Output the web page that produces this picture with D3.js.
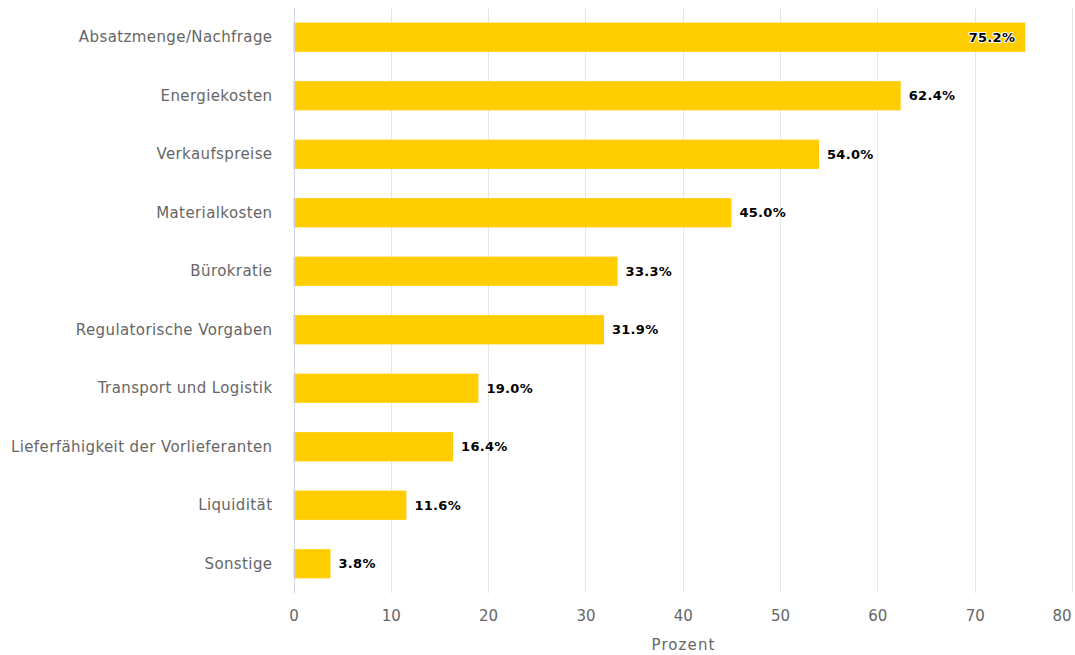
<!DOCTYPE html>
<html>
<head>
<meta charset="utf-8">
<script src="https://cdn.jsdelivr.net/npm/d3@7"></script>
<style>
  body { margin: 0; background: #fff; }
  svg { font-family: "DejaVu Sans", sans-serif; }
</style>
</head>
<body>
<div id="chart-area"></div>
<script>
// Daten
const kategorien = ["Absatzmenge/Nachfrage", "Energiekosten", "Verkaufspreise", "Materialkosten",
  "Bürokratie", "Regulatorische Vorgaben", "Transport und Logistik",
  "Lieferfähigkeit der Vorlieferanten", "Liquidität", "Sonstige"];
const werte = [75.2, 62.4, 54.0, 45.0, 33.3, 31.9, 19.0, 16.4, 11.6, 3.8];
const xTicks = [0, 10, 20, 30, 40, 50, 60, 70, 80];
const achsenTitel = "Prozent";

const data = kategorien.map((k, i) => ({ name: k, wert: werte[i] }));

const W = 1075, H = 655;
const mLeft = 293.5, mRight = 1072, mTop = 8, mBottom = 593;

let svg = d3.select("#chart-area").append("svg")
  .attr("width", W)
  .attr("height", H);

let x = d3.scaleLinear().domain([0, 80]).range([mLeft, mRight]);
let y = d3.scaleBand().domain(kategorien).range([mTop, mBottom])
  .paddingInner(0.5).paddingOuter(0.25);

// Gitterlinien
svg.append("g").selectAll("line")
  .data(xTicks.slice(1))
  .enter().append("line")
  .attr("x1", d => Math.round(x(d)) + 0.5)
  .attr("x2", d => Math.round(x(d)) + 0.5)
  .attr("y1", mTop)
  .attr("y2", mBottom)
  .attr("stroke", "#e6e6e6")
  .attr("stroke-width", 1);

// x-Achse Beschriftung
let xAxis = svg.append("g")
  .attr("transform", `translate(0,${mBottom})`)
  .call(d3.axisBottom(x).tickValues(xTicks).tickSize(0).tickPadding(17));
xAxis.select(".domain").remove();
xAxis.selectAll("text")
  .attr("fill", "#666")
  .style("font-size", "15px")
  .style("font-family", "DejaVu Sans, sans-serif");
// letzte Beschriftung nach innen ruecken wie im Original
xAxis.selectAll(".tick").filter(d => d === 80).select("text")
  .attr("text-anchor", "end")
  .attr("x", -1);

svg.append("text")
  .attr("x", 683.5)
  .attr("y", 650)
  .attr("text-anchor", "middle")
  .attr("fill", "#666")
  .style("font-size", "15px")
  .style("letter-spacing", "1.1px")
  .text(achsenTitel);

// Balken
svg.append("g").selectAll("rect")
  .data(data)
  .enter().append("rect")
  .attr("x", x(0))
  .attr("y", d => y(d.name))
  .attr("width", d => x(d.wert) - x(0))
  .attr("height", y.bandwidth())
  .attr("fill", "#ffcd00");

// y-Achse (Linie bei 0)
svg.append("line")
  .attr("x1", Math.round(x(0)) + 0.5)
  .attr("x2", Math.round(x(0)) + 0.5)
  .attr("y1", mTop)
  .attr("y2", mBottom)
  .attr("stroke", "#ccd6eb");

// Kategorie Beschriftung
let yAxis = svg.append("g")
  .attr("transform", `translate(${mLeft},0)`)
  .call(d3.axisLeft(y).tickSize(0).tickPadding(21));
yAxis.select(".domain").remove();
yAxis.selectAll("text")
  .attr("fill", "#666")
  .style("font-size", "15px")
  .style("letter-spacing", "0.4px")
  .style("font-family", "DejaVu Sans, sans-serif");

// Wert-Beschriftungen
let labels = svg.append("g").selectAll("text")
  .data(data)
  .enter().append("text")
  .attr("y", d => y(d.name) + y.bandwidth() / 2)
  .attr("dy", "0.35em")
  .style("font-size", "13px")
  .style("font-weight", "bold")
  .style("letter-spacing", "0.3px")
  .attr("fill", "#000")
  .attr("stroke", "#fff")
  .attr("stroke-width", 2)
  .attr("stroke-linejoin", "round")
  .attr("paint-order", "stroke")
  .text(d => d.wert.toFixed(1) + "%");

labels.each(function (d) {
  let w = this.getComputedTextLength();
  let end = x(d.wert);
  if (end + 8 + w > mRight) {
    d3.select(this).attr("x", end - 10).attr("text-anchor", "end");
  } else {
    d3.select(this).attr("x", end + 8).attr("text-anchor", "start");
  }
});
</script>
</body>
</html>
